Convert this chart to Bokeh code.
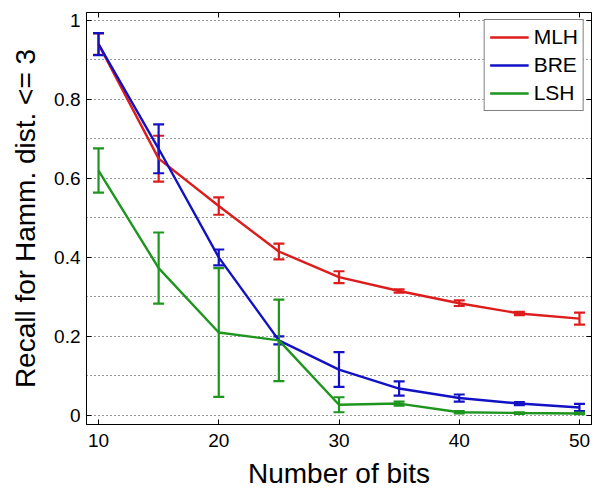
from bokeh.plotting import figure
from bokeh.models import (ColumnDataSource, Whisker, TeeHead, FixedTicker, LinearAxis, Range1d,
                          CustomLabelingPolicy)
from bokeh.embed import file_html
from bokeh.resources import INLINE

# ---- data ----
bits = [10, 15, 20, 25, 30, 35, 40, 45, 50]
mlh = [0.94, 0.65, 0.53, 0.415, 0.35, 0.315, 0.284, 0.258, 0.245]
mlh_err = [0.027, 0.058, 0.022, 0.02, 0.015, 0.004, 0.007, 0.004, 0.015]
bre = [0.94, 0.675, 0.40, 0.19, 0.116, 0.068, 0.044, 0.03, 0.02]
bre_err = [0.028, 0.062, 0.02, 0.01, 0.044, 0.018, 0.009, 0.004, 0.009]
lsh = [0.62, 0.373, 0.21, 0.19, 0.027, 0.03, 0.008, 0.006, 0.005]
lsh_err = [0.056, 0.09, 0.163, 0.103, 0.019, 0.005, 0.003, 0.002, 0.002]

series_names = ["MLH", "BRE", "LSH"]
x_ticks = [10, 20, 30, 40, 50]
y_ticks = [0, 0.2, 0.4, 0.6, 0.8, 1]
y_tick_labels = ["0", "0.2", "0.4", "0.6", "0.8", "1"]
y_grid = [0, 0.1, 0.2, 0.3, 0.4, 0.5, 0.6, 0.7, 0.8, 0.9, 1.0]

colors = ["#dd1c1c", "#1212c4", "#1e951e"]
FONT = "Liberation Sans"

p = figure(width=595, height=491, output_backend="svg", toolbar_location=None,
           x_range=Range1d(9, 51), y_range=Range1d(-0.023, 1.02),
           min_border_left=86, min_border_right=4, min_border_top=12, min_border_bottom=67)
p.background_fill_color = "white"
p.border_fill_color = "white"
p.outline_line_color = "black"
p.outline_line_width = 1

# grids
p.xgrid.visible = False
p.ygrid.ticker = FixedTicker(ticks=y_grid)
p.ygrid.grid_line_color = "#333333"
p.ygrid.grid_line_dash = "1 3"
p.ygrid.grid_line_width = 1

# axes
for ax in [p.xaxis[0], p.yaxis[0]]:
    ax.major_tick_in = 5
    ax.major_tick_out = 0
    ax.minor_tick_in = 0
    ax.minor_tick_out = 0
    ax.axis_line_color = "black"
    ax.major_tick_line_color = "black"
    ax.major_label_text_font = FONT
    ax.major_label_text_font_size = "19px"
    ax.major_label_text_color = "black"
    ax.axis_label_text_font = FONT
    ax.axis_label_text_font_size = "28px"
    ax.axis_label_text_font_style = "normal"
    ax.axis_label_text_color = "black"

p.xaxis.ticker = FixedTicker(ticks=x_ticks)
p.yaxis.ticker = FixedTicker(ticks=y_ticks)
p.yaxis.major_label_overrides = {t: l for t, l in zip(y_ticks, y_tick_labels)}
p.xaxis.axis_label = "Number of bits"
p.yaxis.axis_label = "Recall for Hamm. dist. <= 3"
p.xaxis.major_label_standoff = 9
p.yaxis.major_label_standoff = 6
p.xaxis.axis_label_standoff = 8
p.yaxis.axis_label_standoff = 10

# mirrored tick marks (no labels) on top and right, MATLAB style
top_ax = LinearAxis(ticker=FixedTicker(ticks=x_ticks),
                    major_label_policy=CustomLabelingPolicy(code="return new indices.constructor(indices.size)"))
right_ax = LinearAxis(ticker=FixedTicker(ticks=y_ticks),
                      major_label_policy=CustomLabelingPolicy(code="return new indices.constructor(indices.size)"))
for ax in [top_ax, right_ax]:
    ax.major_tick_in = 5
    ax.major_tick_out = 0
    ax.minor_tick_in = 0
    ax.minor_tick_out = 0
    ax.major_label_standoff = 0
    ax.major_label_text_font_size = "1px"
    ax.axis_line_color = "black"
p.add_layout(top_ax, "above")
p.add_layout(right_ax, "right")

# series
for name, vals, errs, col in zip(series_names, [mlh, bre, lsh], [mlh_err, bre_err, lsh_err], colors):
    src = ColumnDataSource(dict(
        x=bits, y=vals,
        upper=[v + e for v, e in zip(vals, errs)],
        lower=[v - e for v, e in zip(vals, errs)],
    ))
    p.line("x", "y", source=src, line_color=col, line_width=2.4, legend_label=name)
    w = Whisker(source=src, base="x", upper="upper", lower="lower",
                line_color=col, line_width=2.2,
                upper_head=TeeHead(size=11, line_color=col, line_width=2.2),
                lower_head=TeeHead(size=11, line_color=col, line_width=2.2))
    p.add_layout(w)

leg = p.legend[0]
leg.location = "top_right"
leg.margin = 7
leg.padding = 5
leg.spacing = 4
leg.label_height = 22
leg.glyph_height = 22
leg.glyph_width = 39
leg.label_standoff = 5
leg.label_text_font = FONT
leg.label_text_font_size = "21px"
leg.label_text_color = "black"
leg.border_line_color = "black"
leg.border_line_width = 1
leg.background_fill_color = "white"
leg.background_fill_alpha = 1

open("out.html", "w").write(file_html(p, INLINE))
